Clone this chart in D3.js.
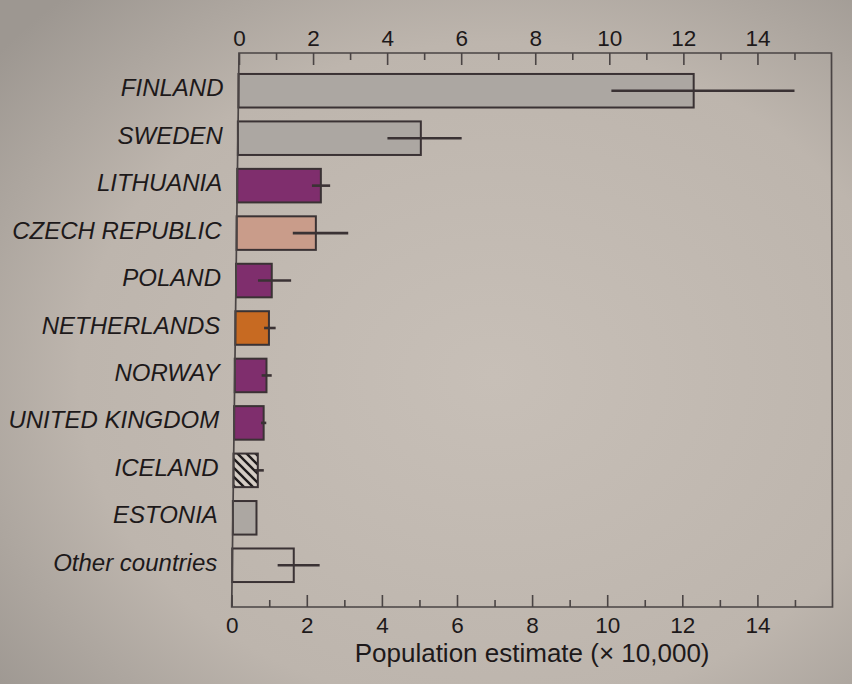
<!DOCTYPE html>
<html><head><meta charset="utf-8">
<script src="https://cdn.jsdelivr.net/npm/d3@7"></script>
<style>html,body{margin:0;padding:0;background:#bfb7af;} svg{display:block}</style>
</head><body><svg id="c" width="852" height="684"></svg>
<script>
// ---- data ----
const countries = ["FINLAND","SWEDEN","LITHUANIA","CZECH REPUBLIC","POLAND","NETHERLANDS","NORWAY","UNITED KINGDOM","ICELAND","ESTONIA","Other countries"];
const estimates = [12.28, 4.93, 2.25, 2.13, 0.96, 0.90, 0.85, 0.79, 0.65, 0.63, 1.64];
const errLow    = [10.06, 4.03, 2.01, 1.51, 0.59, 0.77, 0.72, 0.72, 0.57, null, 1.21];
const errHigh   = [15.00, 6.03, 2.50, 3.00, 1.48, 1.08, 0.99, 0.86, 0.81, null, 2.33];
const fillGroup = ["grey","grey","purple","salmon","purple","orange","purple","purple","hatch","grey","open"];
const xMajorTicks = [0,2,4,6,8,10,12,14];
const xMinorTicks = [1,3,5,7,9,11,13,15];
const xTitle = "Population estimate (\u00d7 10,000)";

// ---- layout ----
const svg = d3.select("#c");
const defs = svg.append("defs");
const rg = defs.append("radialGradient").attr("id","bg").attr("cx","58%").attr("cy","55%").attr("r","75%");
rg.append("stop").attr("offset","0%").attr("stop-color","#c7bfb7");
rg.append("stop").attr("offset","65%").attr("stop-color","#bdb5ad");
rg.append("stop").attr("offset","100%").attr("stop-color","#9d9791");
svg.append("rect").attr("width",852).attr("height",684).attr("fill","url(#bg)");

const hatch = defs.append("pattern").attr("id","hatch").attr("patternUnits","userSpaceOnUse")
  .attr("width",9).attr("height",9);
hatch.append("rect").attr("width",9).attr("height",9).attr("fill","#d4ccc4");
hatch.append("path").attr("d","M-2,-2L11,11M-2,7L2,11M7,-2L11,2").attr("stroke","#1f1b1c").attr("stroke-width",2.4);

const fillColor = d3.scaleOrdinal()
  .domain(["grey","purple","salmon","orange","hatch","open"])
  .range(["#aca7a2","#7f2e6d","#c99c8a","#c76a22","url(#hatch)","none"]);

const yTop = 53, yBot = 607;
const xTop = d3.scaleLinear().domain([0,16]).range([239, 831.5]);
const xBot = d3.scaleLinear().domain([0,16]).range([231.7, 832.5]);
function xAt(yy){
  const t = (yy - yTop)/(yBot - yTop);
  return d3.scaleLinear().domain([0,16]).range([
    xTop.range()[0]*(1-t) + xBot.range()[0]*t,
    xTop.range()[1]*(1-t) + xBot.range()[1]*t]);
}
const y = d3.scaleBand().domain(countries).range([51,605]).paddingInner(0.293).paddingOuter(0.484);

const ink = "#1d191a";
const axisCol = "#4a4444";
const font = "'Liberation Sans', Arial, Helvetica, sans-serif";

// bars
const rows = countries.map((c,i)=>({c, v:estimates[i], lo:errLow[i], hi:errHigh[i], g:fillGroup[i]}));
const gBars = svg.append("g");
rows.forEach(d=>{
  const yc = y(d.c) + y.bandwidth()/2;
  const sx = xAt(yc);
  gBars.append("rect")
    .attr("x", sx(0)).attr("y", y(d.c))
    .attr("width", sx(d.v)-sx(0)).attr("height", y.bandwidth())
    .attr("fill", fillColor(d.g)).attr("stroke", "#3a3234").attr("stroke-width", 2);
  if (d.lo != null) {
    gBars.append("line")
      .attr("x1", sx(d.lo)).attr("x2", sx(d.hi)).attr("y1", yc).attr("y2", yc)
      .attr("stroke", "#3a3234").attr("stroke-width", 2.6);
  }
  svg.append("text")
    .attr("x", sx(0) - 15).attr("y", yc + 5.5)
    .attr("text-anchor","end")
    .attr("font-family",font)
    .attr("font-style","italic").attr("font-size",24).attr("fill",ink)
    .text(d.c);
});

// frame
svg.append("path")
  .attr("d", `M${xTop(0)},${yTop}L${xTop(16)},${yTop}L${xBot(16)},${yBot}L${xBot(0)},${yBot}Z`)
  .attr("fill","none").attr("stroke",axisCol).attr("stroke-width",1.7);

function styleAxis(g){
  g.select(".domain").remove();
  g.selectAll(".tick line").attr("stroke",axisCol).attr("stroke-width",1.6);
  g.selectAll(".tick text").attr("fill",ink)
    .attr("font-family",font).attr("font-size",22.5);
}
svg.append("g").attr("transform",`translate(0,${yTop})`)
  .call(d3.axisTop(xTop).tickValues(xMinorTicks).tickSize(-7).tickFormat("")).call(styleAxis);
svg.append("g").attr("transform",`translate(0,${yTop})`)
  .call(d3.axisTop(xTop).tickValues(xMajorTicks).tickSize(-12).tickPadding(7).tickFormat(d3.format("d"))).call(styleAxis);
svg.append("g").attr("transform",`translate(0,${yBot})`)
  .call(d3.axisBottom(xBot).tickValues(xMinorTicks).tickSize(-7).tickFormat("")).call(styleAxis);
svg.append("g").attr("transform",`translate(0,${yBot})`)
  .call(d3.axisBottom(xBot).tickValues(xMajorTicks).tickSize(-12).tickPadding(10).tickFormat(d3.format("d"))).call(styleAxis);

svg.append("text")
  .attr("x", (xBot(0)+xBot(16))/2).attr("y", 662)
  .attr("text-anchor","middle")
  .attr("font-family",font)
  .attr("font-size",26).attr("fill",ink)
  .text(xTitle);
</script></body></html>
